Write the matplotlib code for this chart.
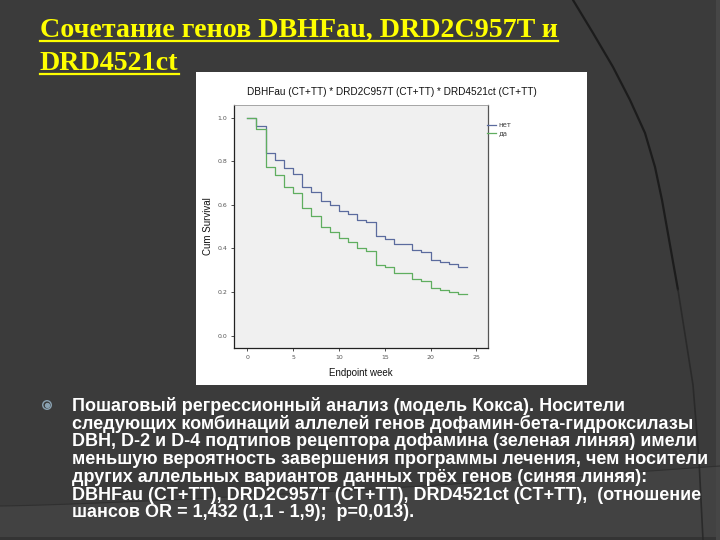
import numpy as np
import matplotlib
matplotlib.use("Agg")
import matplotlib.pyplot as plt
from matplotlib.patches import Rectangle, Polygon
from matplotlib.lines import Line2D

# ---------------- data ----------------
weeks = [0, 1, 2, 3, 4, 5, 6, 7, 8, 9, 10, 11, 12, 13, 14, 15, 16, 18, 19, 20, 21, 22, 23, 24]
surv_net = [1.0, 0.963, 0.837, 0.806, 0.767, 0.742, 0.683, 0.658, 0.619, 0.600, 0.573, 0.557,
            0.531, 0.520, 0.457, 0.443, 0.420, 0.393, 0.382, 0.347, 0.340, 0.330, 0.317, 0.317]
surv_da = [1.0, 0.948, 0.775, 0.735, 0.683, 0.653, 0.585, 0.550, 0.500, 0.477, 0.450, 0.431,
           0.404, 0.389, 0.324, 0.314, 0.286, 0.259, 0.252, 0.217, 0.210, 0.199, 0.191, 0.191]
group_labels = ["нет", "да"]
x_ticks = [0, 5, 10, 15, 20, 25]
y_ticks = [0.0, 0.2, 0.4, 0.6, 0.8, 1.0]

slide_title = ["Сочетание генов DBHFau, DRD2C957T и", "DRD4521ct"]
chart_title = "DBHFau (CT+TT) * DRD2C957T (CT+TT) * DRD4521ct (CT+TT)"
x_label = "Endpoint week"
y_label = "Cum Survival"
body_lines = [
    "Пошаговый регрессионный анализ (модель Кокса). Носители",
    "следующих комбинаций аллелей генов дофамин-бета-гидроксилазы",
    "DBH, D-2 и D-4 подтипов рецептора дофамина (зеленая линяя) имели",
    "меньшую вероятность завершения программы лечения, чем носители",
    "других аллельных вариантов данных трёх генов (синяя линяя):",
    "DBHFau (CT+TT), DRD2C957T (CT+TT), DRD4521ct (CT+TT),  (отношение",
    "шансов OR = 1,432 (1,1 - 1,9);  p=0,013).",
]

W, H = 720, 540
BG = "#3b3b3b"
fig = plt.figure(figsize=(7.2, 5.4), dpi=100, facecolor=BG)

# ---------------- slide background (pixel coords) ----------------
bg = fig.add_axes([0, 0, 1, 1], zorder=0)
bg.set_xlim(0, W)
bg.set_ylim(H, 0)
bg.axis("off")
bg.set_facecolor(BG)
# lighter lower band
bx = np.linspace(0, W, 60)
by = 506 - 40 * (bx / W) ** 1.3
band = Polygon(np.vstack([np.column_stack([bx, by]), [[W, 537], [0, 537]]]),
               closed=True, facecolor="#424242", edgecolor="none")
bg.add_patch(band)
bg.plot(bx, by, color="#303030", lw=0.8)
bg.add_patch(Rectangle((0, 537), W, 3, facecolor="#343434", edgecolor="none"))
bg.add_patch(Rectangle((716, 0), 4, H, facecolor="#464646", edgecolor="none"))
# dark arc
arc_y = np.array([0, 33, 67, 100, 133, 167, 200, 290, 385, 460, 540])
arc_x = np.array([573, 593, 613, 630, 645, 655, 662, 678, 693, 699, 703])
bg.plot(arc_x[:8], arc_y[:8], color="#1c1c1c", lw=1.6, solid_capstyle="round")
bg.plot(arc_x[7:], arc_y[7:], color="#2a2a2a", lw=1.2, solid_capstyle="round")

# white chart panel
bg.add_patch(Rectangle((196, 72), 391, 313, facecolor="white", edgecolor="none"))

# bullet
bg.scatter([47], [405], s=38, facecolor="none", edgecolor="#8aa2b2", linewidths=1.0, zorder=3)
bg.scatter([47], [405], s=8, color="#8aa2b2", zorder=3)

# ---------------- slide title ----------------
title_objs = []
for i, line in enumerate(slide_title):
    t = fig.text(40 / W, 1 - (37 + 33 * i) / H, line, color="#ffff00",
                 fontsize=20.2, fontweight="bold", family="Liberation Serif",
                 ha="left", va="baseline")
    title_objs.append((t, 37 + 33 * i))

# ---------------- body text ----------------
for i, line in enumerate(body_lines):
    fig.text(72 / W, 1 - (411 + 17.7 * i) / H, line, color="white",
             fontsize=13.0, fontweight="bold", family="Liberation Sans",
             ha="left", va="baseline")

# ---------------- chart ----------------
ax = fig.add_axes([234.3 / W, 1 - 347.7 / H, (488.3 - 234.3) / W, (347.7 - 105) / H], zorder=2)
ax.set_facecolor("#f0f0f0")
ax.plot(weeks, surv_net, drawstyle="steps-post", color="#5b6b9e", lw=0.9, label=group_labels[0])
ax.plot(weeks, surv_da, drawstyle="steps-post", color="#5fae5f", lw=0.9, label=group_labels[1])
ax.set_xlim(-1.42, 26.3)
ax.set_ylim(-0.055, 1.058)
ax.set_xticks(x_ticks)
ax.set_yticks(y_ticks)
ax.set_xticklabels([str(v) for v in x_ticks])
ax.set_yticklabels([f"{v:.1f}" for v in y_ticks])
ax.tick_params(axis="both", direction="out", length=2.5, width=0.6, labelsize=4.5,
               labelcolor="#555555", color="#333333", pad=2.5)
for s in ["left", "bottom"]:
    ax.spines[s].set_color("#222222")
    ax.spines[s].set_linewidth(0.9)
ax.spines["top"].set_color("#999999")
ax.spines["top"].set_linewidth(0.6)
ax.spines["right"].set_color("#555555")
ax.spines["right"].set_linewidth(0.9)
ax.set_xlabel(x_label, fontsize=7.0, family="Liberation Sans", color="#111111", labelpad=6)
ax.set_ylabel(y_label, fontsize=7.0, family="Liberation Sans", color="#111111", labelpad=3)
fig.text(391.5 / W, 1 - 92 / H, chart_title, fontsize=7.2, family="Liberation Sans",
         color="#111111", ha="center", va="center", zorder=5)
leg = ax.legend(loc="upper left", bbox_to_anchor=(0.995, 0.93), frameon=False,
                fontsize=5.0, handlelength=1.3, handletextpad=0.3, labelspacing=0.3,
                borderaxespad=0, borderpad=0)
for txt in leg.get_texts():
    txt.set_color("#444444")

# ---------------- underline the slide title ----------------
fig.canvas.draw()
r = fig.canvas.get_renderer()
for t, base in title_objs:
    bb = t.get_window_extent(renderer=r)
    x0, x1 = bb.x0 / W, bb.x1 / W
    yy = 1 - (base + 3.5) / H
    fig.add_artist(Line2D([x0, x1], [yy, yy], color="#ffff00", lw=1.6, transform=fig.transFigure))

fig.savefig("out.png", dpi=100, facecolor=BG)
